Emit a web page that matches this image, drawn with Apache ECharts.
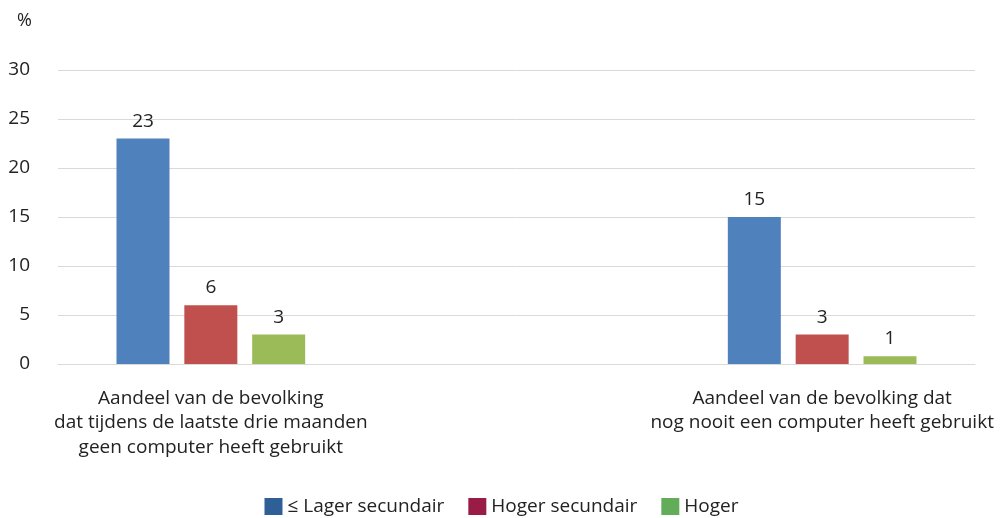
<!DOCTYPE html>
<html>
<head>
<meta charset="utf-8">
<script src="https://cdn.jsdelivr.net/npm/echarts@6/dist/echarts.min.js"></script>
<style>
html,body{margin:0;padding:0;background:#fff;}
#chart{width:1003px;height:518px;}
</style>
</head>
<body>
<div id="chart"></div>
<script>
// Data
var categories = [
  'Aandeel van de bevolking\ndat tijdens de laatste drie maanden\ngeen computer heeft gebruikt',
  '',
  'Aandeel van de bevolking dat\nnog nooit een computer heeft gebruikt'
];
var seriesNames = ['≤ Lager secundair', 'Hoger secundair', 'Hoger'];
var lagerSecundair = [23, null, 15];
var hogerSecundair = [6, null, 3];
var hoger = [3, null, 0.8];
var yTicks = [0, 5, 10, 15, 20, 25, 30];

var barColors = ['#4f81bd', '#c0504d', '#9bbb59'];
var legendColors = ['#2e5f97', '#9b1b47', '#63ad5a'];
var FONT = 'Open Sans';
var FS = 19;

var chart = echarts.init(document.getElementById('chart'), null, {renderer: 'canvas'});
var valuesList = [lagerSecundair, hogerSecundair, hoger];
var series = seriesNames.map(function (n, i) {
  return {
    name: n,
    type: 'bar',
    data: valuesList[i],
    barWidth: 53,
    barGap: '28%',
    itemStyle: {color: barColors[i]},
    label: {
      show: true,
      position: 'top',
      distance: 8,
      color: '#222',
      fontFamily: FONT,
      fontSize: FS,
      formatter: function (p) { return p.value == null ? '' : Math.round(p.value); }
    }
  };
});

chart.setOption({
  animation: false,
  title: {
    text: '%',
    left: 12,
    top: 7,
    textStyle: {color: '#222', fontFamily: FONT, fontSize: FS - 1, fontWeight: 'normal'}
  },
  legend: {
    top: 492,
    left: 'center',
    itemWidth: 18,
    itemHeight: 17,
    itemGap: 24,
    icon: 'rect',
    textStyle: {color: '#222', fontFamily: FONT, fontSize: FS},
    data: seriesNames.map(function (n, i) {
      return {name: n, itemStyle: {color: legendColors[i]}};
    })
  },
  grid: {left: 58, right: 28, top: 70, bottom: 154, containLabel: false},
  xAxis: {
    type: 'category',
    data: categories,
    axisLine: {show: true, lineStyle: {color: '#d9d9d9'}},
    axisTick: {show: false},
    axisLabel: {
      interval: 0,
      margin: 22,
      color: '#222',
      fontFamily: FONT,
      fontSize: FS,
      lineHeight: 24.5,
      align: 'center'
    }
  },
  yAxis: {
    type: 'value',
    min: yTicks[0],
    max: yTicks[yTicks.length - 1],
    interval: 5,
    axisLine: {show: false},
    axisTick: {show: false},
    splitLine: {lineStyle: {color: '#d9d9d9'}},
    axisLabel: {margin: 28, color: '#222', fontFamily: FONT, fontSize: FS}
  },
  series: series
});
</script>
</body>
</html>
